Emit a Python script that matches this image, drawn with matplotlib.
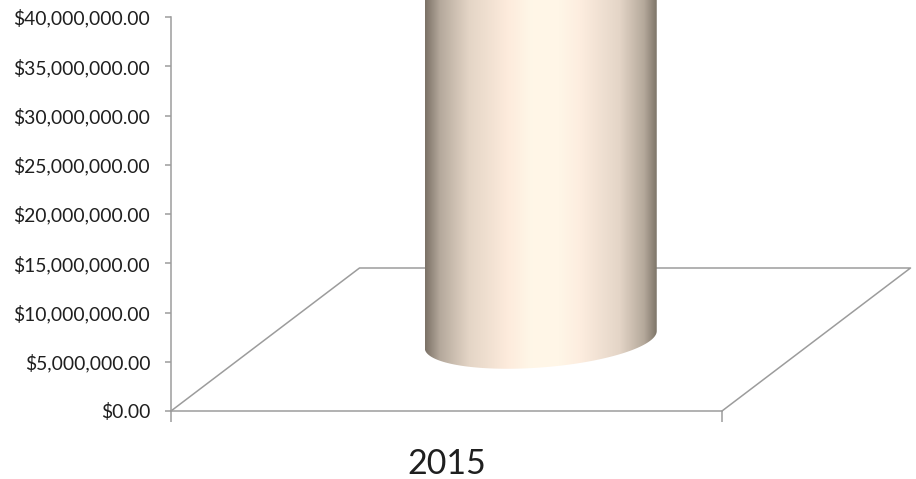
import numpy as np
import matplotlib
matplotlib.use("Agg")
import matplotlib.pyplot as plt
from matplotlib.colors import LinearSegmentedColormap
from matplotlib.patches import Polygon

categories = ["2015"]
values = [60000000]  # bar runs off the top of the picture; estimated
y_ticks = [0, 5000000, 10000000, 15000000, 20000000, 25000000, 30000000, 35000000, 40000000]
y_labels = [f"${v:,.2f}" for v in y_ticks]

W, H = 916, 479
GREY = "#9c9c9c"
plt.rcParams["font.family"] = ["Lato", "DejaVu Sans"]

fig = plt.figure(figsize=(W / 100, H / 100), dpi=100)
ax = fig.add_axes([171 / W, 1 - 411 / H, 551 / W, 394 / H])
ax.set_xlim(-0.5, 0.5)
ax.set_ylim(0, 40000000)
ax.patch.set_alpha(0)

for s in ("top", "right"):
    ax.spines[s].set_visible(False)
for s in ("left", "bottom"):
    ax.spines[s].set_color(GREY)
    ax.spines[s].set_linewidth(1.1)

ax.set_yticks(y_ticks)
ax.set_yticklabels(y_labels, fontsize=13.9, color="#1f1f1f")
ax.tick_params(axis="y", length=4, width=1.1, color=GREY, pad=11)
ax.set_xticks([-0.5, 0.5])
ax.set_xticklabels(["", ""])
ax.tick_params(axis="x", which="major", length=8, width=1.1, color=GREY)
ax.set_xticks([0], minor=True)
ax.set_xticklabels(categories, minor=True, fontsize=24.5, color="#1f1f1f")
ax.tick_params(axis="x", which="minor", length=0, pad=26.5)

# floor depth (3-D oblique offset), in axis units
dx = 188.5 / 551
dy = 143 / 394 * 40000000

floor_x = [-0.5, -0.5 + dx, 0.5 + dx, 0.5]
floor_y = [0, dy, dy, 0]
ax.plot(floor_x, floor_y, color=GREY, lw=1.1, clip_on=False, zorder=1)

# cylinder
half_w = 116 / 551
skew = 8.5 / 394 * 40000000
minor = 28 / 394 * 40000000
cx = 0 + dx / 2
cy = dy / 2
top = values[0] + cy

t = np.linspace(0, np.pi, 100)
ex = cx + half_w * np.cos(t)
ey = cy + skew * np.cos(t) - minor * np.sin(t)
outline = np.vstack([
    [cx + half_w, top],
    np.column_stack([ex, ey]),
    [cx - half_w, top],
])

stops = [(0.0, "#7b7166"), (0.065, "#b5a99c"), (0.19, "#e4d5c6"),
         (0.355, "#fdebdc"), (0.46, "#fff7e8"), (0.58, "#fff6e7"), (0.67, "#fdeddf"),
         (0.84, "#e4d5c7"), (0.945, "#b5a99b"), (1.0, "#7e7569")]
cmap = LinearSegmentedColormap.from_list("cyl", stops, N=512)
grad = np.linspace(0, 1, 512).reshape(1, -1)
im = ax.imshow(grad, cmap=cmap, aspect="auto", interpolation="bilinear",
               extent=[cx - half_w, cx + half_w, cy - 2 * minor, top], zorder=3)
ax.set_xlim(-0.5, 0.5)
ax.set_ylim(0, 40000000)
clip = Polygon(outline, closed=True, transform=ax.transData, fc="none", ec="none")
ax.add_patch(clip)
clip.set_clip_on(False)
im.set_clip_box(fig.bbox)
im.set_clip_path(clip)

fig.savefig("out.png", dpi=100)
